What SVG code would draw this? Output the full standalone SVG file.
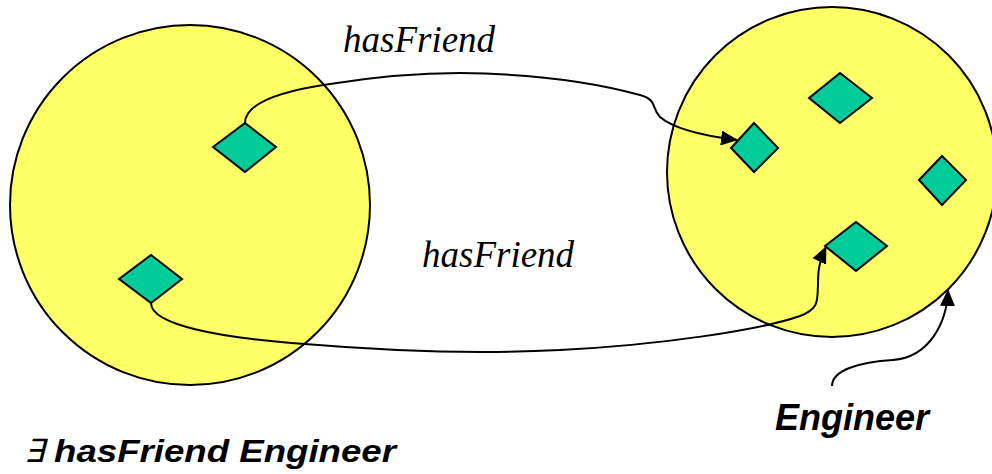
<svg xmlns="http://www.w3.org/2000/svg" width="992" height="474" viewBox="0 0 992 474">
  <style>
    .set { fill: #FFFF66; stroke: #000; stroke-width: 2; }
    .ind { fill: #00CC99; stroke: #000; stroke-width: 2; stroke-linejoin: miter; }
    .conn { fill: none; stroke: #000; stroke-width: 2; }
    .role { font-family: "Liberation Serif", "Times New Roman", serif; font-style: italic; font-size: 37px; fill: #000; }
    .cls { font-family: "Liberation Sans", Arial, sans-serif; font-style: italic; font-weight: bold; fill: #000; }
  </style>
  <defs>
    <marker id="arrow" markerUnits="userSpaceOnUse" markerWidth="17" markerHeight="15" refX="16" refY="7.5" orient="auto">
      <path d="M0,0 L17,7.5 L0,15 z" fill="#000"/>
    </marker>
  </defs>
  <rect width="992" height="474" fill="#fff"/>

  <g id="set-left">
    <circle class="set" cx="190" cy="205" r="180"/>
  </g>
  <g id="set-engineer">
    <circle class="set" cx="832" cy="172" r="165"/>
  </g>

  <g id="ind-left-top"><polygon class="ind" points="213,147 245,123 276,147 245,172"/></g>
  <g id="ind-left-bottom"><polygon class="ind" points="119,279 151,255 182,279 151,303"/></g>
  <g id="ind-right-target"><polygon class="ind" points="731,148 754,123 778,148 754,172"/></g>
  <g id="ind-right-top"><polygon class="ind" points="809,98 840,73 872,98 840,123"/></g>
  <g id="ind-right-side"><polygon class="ind" points="919,180 942,156 966,180 942,205"/></g>
  <g id="ind-right-bottom"><polygon class="ind" points="825,246 856,222 887,246 856,271"/></g>

  <g id="connectors">
    <path class="conn" marker-end="url(#arrow)" d="M245,123 C245,105 275,92 330,84 C380,76 420,73 460,73 C540,74 600,84 640,95 C658,100 651,108 660,117 C675,130 705,136 737,140"/>
    <path class="conn" marker-end="url(#arrow)" d="M151,303 C151,325 220,338 305,344 C400,352 480,354 560,350 C660,345 760,330 800,316 C820,308 817,300 818,285 C818,270 819,262 826,247"/>
    <path class="conn" marker-end="url(#arrow)" d="M832,386 C832,370 860,362 893,360 C930,357 947,322 948,290"/>
  </g>

  <g id="labels">
    <text class="role" x="343" y="52">hasFriend</text>
    <text class="role" x="422" y="267">hasFriend</text>
    <text class="cls" x="775" y="430" font-size="36">Engineer</text>
    <text x="0" y="0" transform="translate(24,462) skewX(-14)" font-family="'DejaVu Sans', sans-serif" font-size="32" fill="#000">∃</text>
    <text class="cls" x="54" y="462" font-size="32" textLength="342" lengthAdjust="spacingAndGlyphs">hasFriend Engineer</text>
  </g>
</svg>
